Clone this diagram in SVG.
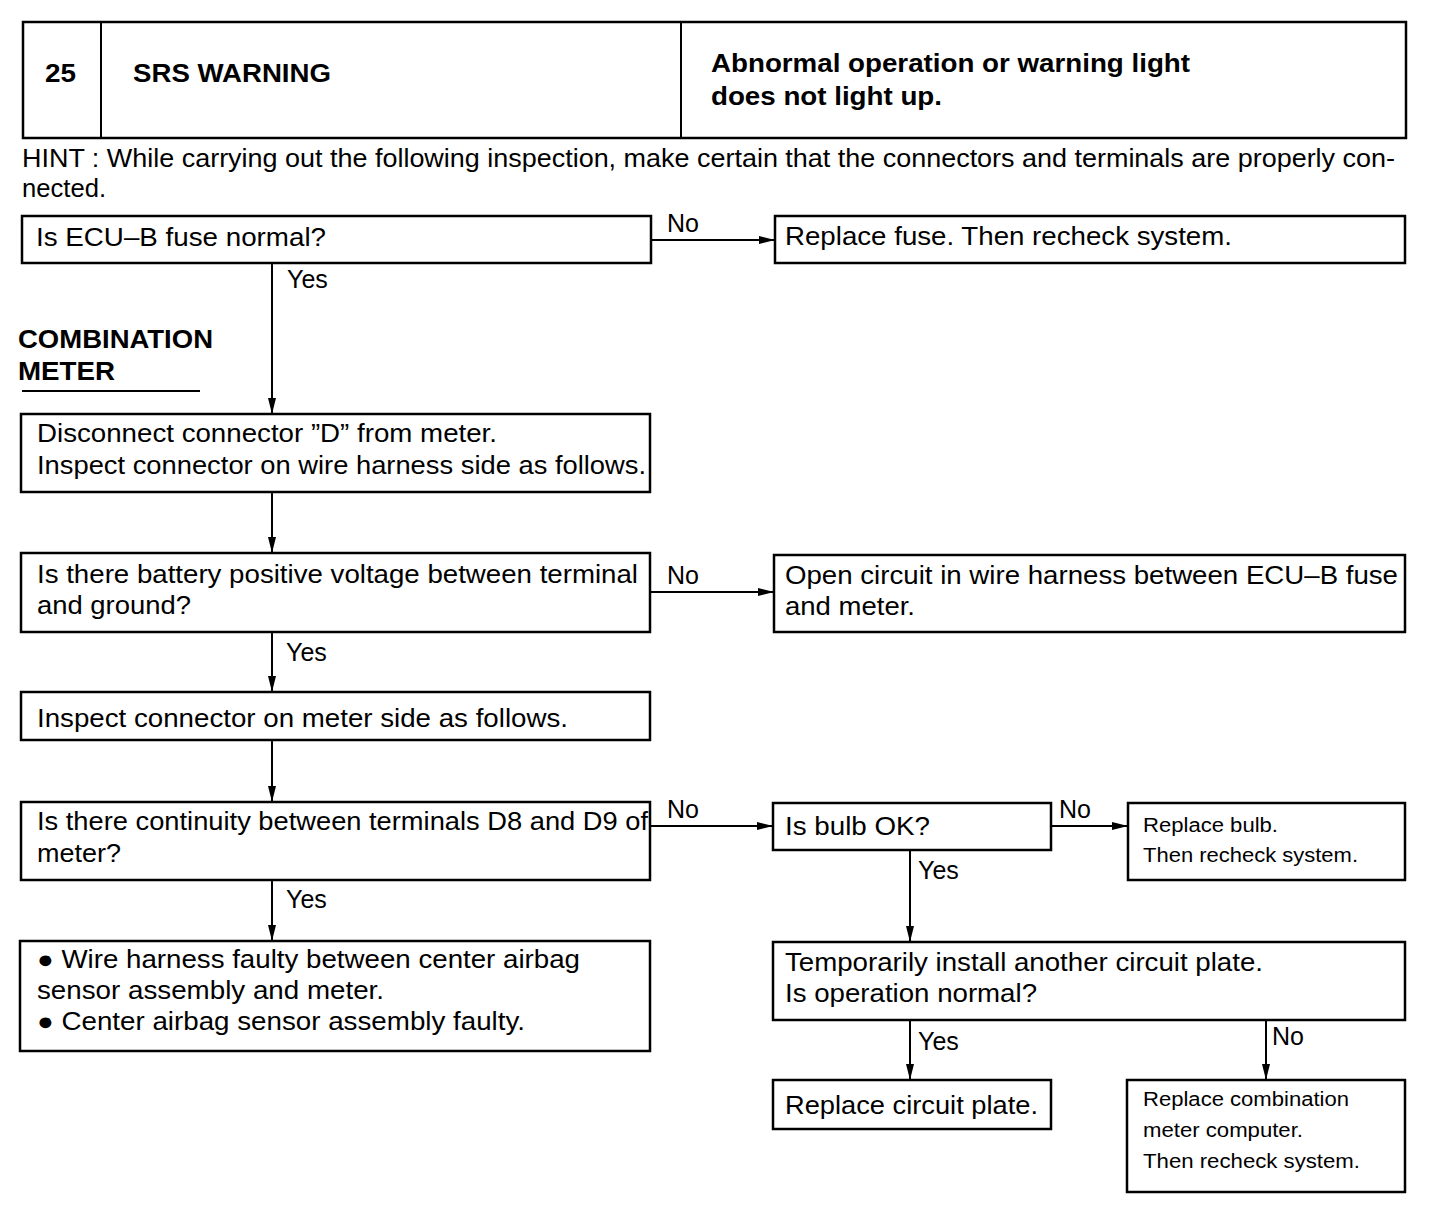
<svg xmlns="http://www.w3.org/2000/svg" width="1440" height="1216" viewBox="0 0 1440 1216">
<style>
.b{fill:#fff;stroke:#000;stroke-width:2.5}
.t{font-family:"Liberation Sans",Arial,sans-serif;font-size:25px;fill:#000}
.s{font-family:"Liberation Sans",Arial,sans-serif;font-size:20px;fill:#000}
.h{font-family:"Liberation Sans",Arial,sans-serif;font-size:25px;font-weight:bold;fill:#000}
.c{stroke:#000;stroke-width:2;fill:none}
</style>
<defs>
<marker id="a" markerUnits="userSpaceOnUse" markerWidth="16" markerHeight="10" refX="16" refY="5" orient="auto"><path d="M0,1 L16,5 L0,9 Z" fill="#000"/></marker>
</defs>
<rect width="1440" height="1216" fill="#fff"/>
<g id="header">
<rect class="b" x="23" y="22" width="1383" height="116"/>
<line class="c" x1="101" y1="22" x2="101" y2="138" stroke-width="2.5"/>
<line class="c" x1="681" y1="22" x2="681" y2="138" stroke-width="2.5"/>
<text class="h" x="45" y="82" textLength="31" lengthAdjust="spacingAndGlyphs">25</text>
<text class="h" x="133" y="82" textLength="198" lengthAdjust="spacingAndGlyphs">SRS WARNING</text>
<text class="h" x="711" y="72" textLength="479" lengthAdjust="spacingAndGlyphs">Abnormal operation or warning light</text>
<text class="h" x="711" y="105" textLength="231" lengthAdjust="spacingAndGlyphs">does not light up.</text>
</g>
<g id="hint">
<text class="t" x="22" y="167" textLength="1373" lengthAdjust="spacingAndGlyphs">HINT : While carrying out the following inspection, make certain that the connectors and terminals are properly con-</text>
<text class="t" x="22" y="197" textLength="84" lengthAdjust="spacingAndGlyphs">nected.</text>
</g>
<g id="section">
<text class="h" x="18" y="348" textLength="195" lengthAdjust="spacingAndGlyphs">COMBINATION</text>
<text class="h" x="18" y="380" textLength="97" lengthAdjust="spacingAndGlyphs">METER</text>
<line class="c" x1="22" y1="391" x2="200" y2="391"/>
</g>
<g id="n1"><rect class="b" x="22" y="216" width="629" height="47"/><text class="t" x="36" y="246" textLength="290" lengthAdjust="spacingAndGlyphs">Is ECU–B fuse normal?</text></g>
<g id="n2"><rect class="b" x="775" y="216" width="630" height="47"/><text class="t" x="785" y="245" textLength="447" lengthAdjust="spacingAndGlyphs">Replace fuse. Then recheck system.</text></g>
<g id="n3"><rect class="b" x="21" y="414" width="629" height="78"/><text class="t" x="37" y="442" textLength="460" lengthAdjust="spacingAndGlyphs">Disconnect connector ”D” from meter.</text><text class="t" x="37" y="474" textLength="609" lengthAdjust="spacingAndGlyphs">Inspect connector on wire harness side as follows.</text></g>
<g id="n4"><rect class="b" x="21" y="553" width="629" height="79"/><text class="t" x="37" y="583" textLength="601" lengthAdjust="spacingAndGlyphs">Is there battery positive voltage between terminal</text><text class="t" x="37" y="614" textLength="154" lengthAdjust="spacingAndGlyphs">and ground?</text></g>
<g id="n5"><rect class="b" x="774" y="555" width="631" height="77"/><text class="t" x="785" y="584" textLength="613" lengthAdjust="spacingAndGlyphs">Open circuit in wire harness between ECU–B fuse</text><text class="t" x="785" y="615" textLength="130" lengthAdjust="spacingAndGlyphs">and meter.</text></g>
<g id="n6"><rect class="b" x="21" y="692" width="629" height="48"/><text class="t" x="37" y="727" textLength="531" lengthAdjust="spacingAndGlyphs">Inspect connector on meter side as follows.</text></g>
<g id="n7"><rect class="b" x="21" y="802" width="629" height="78"/><text class="t" x="37" y="830" textLength="611" lengthAdjust="spacingAndGlyphs">Is there continuity between terminals D8 and D9 of</text><text class="t" x="37" y="862" textLength="84" lengthAdjust="spacingAndGlyphs">meter?</text></g>
<g id="n8"><rect class="b" x="773" y="803" width="278" height="47"/><text class="t" x="785" y="835" textLength="145" lengthAdjust="spacingAndGlyphs">Is bulb OK?</text></g>
<g id="n9"><rect class="b" x="1128" y="803" width="277" height="77"/><text class="s" x="1143" y="832" textLength="135" lengthAdjust="spacingAndGlyphs">Replace bulb.</text><text class="s" x="1143" y="862" textLength="215" lengthAdjust="spacingAndGlyphs">Then recheck system.</text></g>
<g id="n10"><rect class="b" x="20" y="941" width="630" height="110"/><text class="t" x="37" y="968" textLength="543" lengthAdjust="spacingAndGlyphs">● Wire harness faulty between center airbag</text><text class="t" x="37" y="999" textLength="347" lengthAdjust="spacingAndGlyphs">sensor assembly and meter.</text><text class="t" x="37" y="1030" textLength="488" lengthAdjust="spacingAndGlyphs">● Center airbag sensor assembly faulty.</text></g>
<g id="n11"><rect class="b" x="773" y="942" width="632" height="78"/><text class="t" x="785" y="971" textLength="478" lengthAdjust="spacingAndGlyphs">Temporarily install another circuit plate.</text><text class="t" x="785" y="1002" textLength="252" lengthAdjust="spacingAndGlyphs">Is operation normal?</text></g>
<g id="n12"><rect class="b" x="773" y="1080" width="278" height="49"/><text class="t" x="785" y="1114" textLength="253" lengthAdjust="spacingAndGlyphs">Replace circuit plate.</text></g>
<g id="n13"><rect class="b" x="1127" y="1080" width="278" height="112"/><text class="s" x="1143" y="1106" textLength="206" lengthAdjust="spacingAndGlyphs">Replace combination</text><text class="s" x="1143" y="1137" textLength="160" lengthAdjust="spacingAndGlyphs">meter computer.</text><text class="s" x="1143" y="1168" textLength="217" lengthAdjust="spacingAndGlyphs">Then recheck system.</text></g>
<g id="connectors">
<line class="c" x1="651" y1="240" x2="775" y2="240" marker-end="url(#a)"/>
<line class="c" x1="272" y1="263" x2="272" y2="414" marker-end="url(#a)"/>
<line class="c" x1="272" y1="492" x2="272" y2="553" marker-end="url(#a)"/>
<line class="c" x1="650" y1="592" x2="774" y2="592" marker-end="url(#a)"/>
<line class="c" x1="272" y1="632" x2="272" y2="692" marker-end="url(#a)"/>
<line class="c" x1="272" y1="740" x2="272" y2="802" marker-end="url(#a)"/>
<line class="c" x1="650" y1="826" x2="773" y2="826" marker-end="url(#a)"/>
<line class="c" x1="1051" y1="826" x2="1128" y2="826" marker-end="url(#a)"/>
<line class="c" x1="272" y1="880" x2="272" y2="941" marker-end="url(#a)"/>
<line class="c" x1="910" y1="850" x2="910" y2="942" marker-end="url(#a)"/>
<line class="c" x1="910" y1="1020" x2="910" y2="1080" marker-end="url(#a)"/>
<line class="c" x1="1266" y1="1020" x2="1266" y2="1080" marker-end="url(#a)"/>
<text class="t" x="667" y="232">No</text>
<text class="t" x="287" y="288">Yes</text>
<text class="t" x="667" y="584">No</text>
<text class="t" x="286" y="661">Yes</text>
<text class="t" x="667" y="818">No</text>
<text class="t" x="1059" y="818">No</text>
<text class="t" x="286" y="908">Yes</text>
<text class="t" x="918" y="879">Yes</text>
<text class="t" x="918" y="1050">Yes</text>
<text class="t" x="1272" y="1045">No</text>
</g>
</svg>
